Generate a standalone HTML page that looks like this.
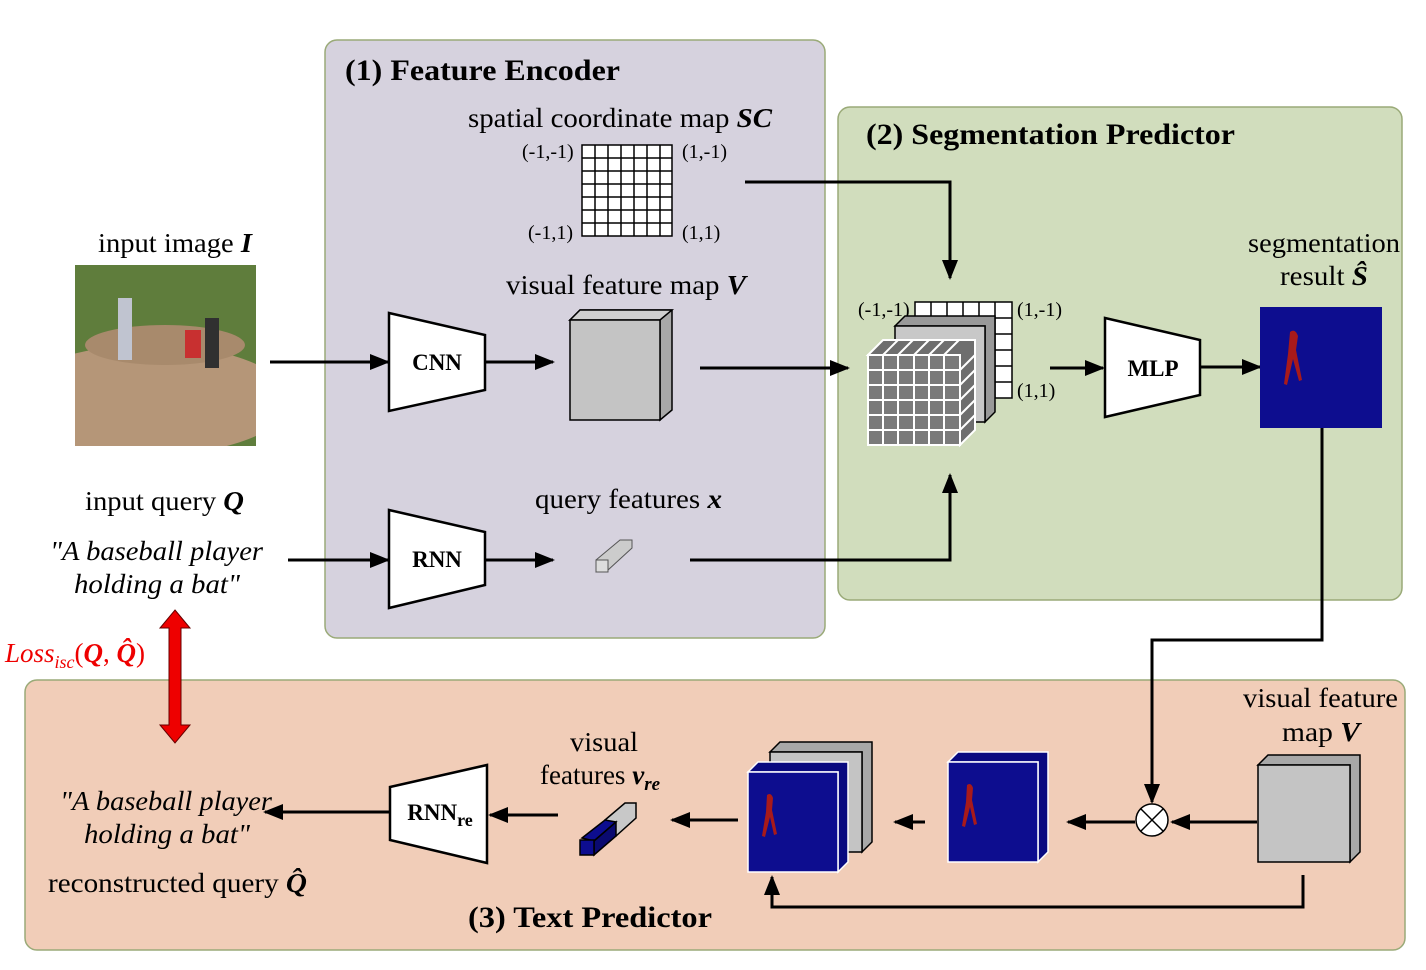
<!DOCTYPE html>
<html><head><meta charset="utf-8"><style>
html,body{margin:0;padding:0;background:#fff;}
svg{display:block;font-family:"Liberation Serif",serif;}
</style></head><body>
<svg width="1426" height="970" viewBox="0 0 1426 970" xmlns="http://www.w3.org/2000/svg">
<defs>
<marker id="ahb" viewBox="0 0 10 8" markerWidth="22" markerHeight="16" refX="9" refY="4" orient="auto" markerUnits="userSpaceOnUse">
<path d="M0,0 L10,4 L0,8 Z" fill="#000"/></marker>
<clipPath id="ph"><rect x="75" y="265" width="181" height="181"/></clipPath>
</defs>
<!-- panels -->
<rect x="325" y="40" width="500" height="598" rx="12" fill="#d6d2de" stroke="#9aaa78" stroke-width="1.5"/>
<rect x="838" y="107" width="564" height="493" rx="12" fill="#d1ddbd" stroke="#9aaa78" stroke-width="1.5"/>
<rect x="25" y="680" width="1380" height="270" rx="12" fill="#f1cdb8" stroke="#9aaa78" stroke-width="1.5"/>

<g font-size="30" font-weight="bold" lengthAdjust="spacingAndGlyphs">
<text x="345" y="80" textLength="275" lengthAdjust="spacingAndGlyphs">(1) Feature Encoder</text>
<text x="866" y="144" textLength="369" lengthAdjust="spacingAndGlyphs">(2) Segmentation Predictor</text>
<text x="468" y="927" textLength="244" lengthAdjust="spacingAndGlyphs">(3) Text Predictor</text>
</g>
<g font-size="27">
<text x="468" y="127" textLength="304" lengthAdjust="spacingAndGlyphs">spatial coordinate map <tspan font-weight="bold" font-style="italic">SC</tspan></text>
<text x="506" y="294" textLength="240" lengthAdjust="spacingAndGlyphs">visual feature map <tspan font-weight="bold" font-style="italic">V</tspan></text>
<text x="535" y="508" textLength="187" lengthAdjust="spacingAndGlyphs">query features <tspan font-weight="bold" font-style="italic">x</tspan></text>
<text x="98" y="252" textLength="154" lengthAdjust="spacingAndGlyphs">input image <tspan font-weight="bold" font-style="italic">I</tspan></text>
<text x="85" y="510" textLength="159" lengthAdjust="spacingAndGlyphs">input query <tspan font-weight="bold" font-style="italic">Q</tspan></text>
<text x="50" y="560" font-style="italic" textLength="213" lengthAdjust="spacingAndGlyphs">"A baseball player</text>
<text x="74" y="593" font-style="italic" textLength="166" lengthAdjust="spacingAndGlyphs">holding a bat"</text>
<text x="60" y="810" font-style="italic" textLength="212" lengthAdjust="spacingAndGlyphs">"A baseball player</text>
<text x="84" y="843" font-style="italic" textLength="166" lengthAdjust="spacingAndGlyphs">holding a bat"</text>
<text x="48" y="892" textLength="259" lengthAdjust="spacingAndGlyphs">reconstructed query <tspan font-weight="bold" font-style="italic">Q̂</tspan></text>
<text x="1248" y="252" textLength="152" lengthAdjust="spacingAndGlyphs">segmentation</text>
<text x="1280" y="285" textLength="88" lengthAdjust="spacingAndGlyphs">result <tspan font-weight="bold" font-style="italic">Ŝ</tspan></text>
<text x="1243" y="707" textLength="155" lengthAdjust="spacingAndGlyphs">visual feature</text>
<text x="1282" y="741" textLength="78" lengthAdjust="spacingAndGlyphs">map <tspan font-weight="bold" font-style="italic">V</tspan></text>
<text x="570" y="751" textLength="68" lengthAdjust="spacingAndGlyphs">visual</text>
<text x="540" y="784">features <tspan font-weight="bold" font-style="italic">v<tspan font-size="19" dy="6">re</tspan></tspan></text>
</g>
<text x="5" y="662" font-size="27" fill="#e00" font-style="italic">Loss<tspan font-size="18" dy="6">isc</tspan><tspan dy="-6" font-style="normal">(</tspan><tspan font-weight="bold">Q</tspan><tspan font-style="normal">, </tspan><tspan font-weight="bold">Q̂</tspan><tspan font-style="normal">)</tspan></text>
<!-- red arrow -->
<path d="M175,610 L190,628 L181,628 L181,725 L190,725 L175,743 L160,725 L169,725 L169,628 L160,628 Z" fill="#e00" stroke="#600" stroke-width="1"/>

<!-- photo -->
<g clip-path="url(#ph)">
<rect x="75" y="265" width="181" height="181" fill="#5f7d3c"/>
<ellipse cx="150" cy="400" rx="140" ry="55" fill="#b59678"/>
<ellipse cx="165" cy="345" rx="80" ry="20" fill="#a88a6c"/>
<rect x="118" y="298" width="14" height="62" fill="#c0c4d0"/>
<rect x="185" y="330" width="16" height="28" fill="#c83030"/>
<rect x="205" y="318" width="14" height="50" fill="#303030"/>
</g>

<!-- SC grid -->
<g stroke="#000" stroke-width="1.5" fill="#fff">
<rect x="582" y="145" width="90" height="91"/>
<path d="M595,145V236M608,145V236M621,145V236M634,145V236M647,145V236M660,145V236M582,158H672M582,171H672M582,184H672M582,197H672M582,210H672M582,223H672" fill="none"/>
</g>
<g font-size="20">
<text x="522" y="158">(-1,-1)</text><text x="682" y="158">(1,-1)</text>
<text x="528" y="239">(-1,1)</text><text x="682" y="239">(1,1)</text>
<text x="858" y="316">(-1,-1)</text><text x="1017" y="316">(1,-1)</text>
<text x="1017" y="397">(1,1)</text>
</g>

<!-- trapezoids -->
<g fill="#fff" stroke="#000" stroke-width="2.5">
<path d="M389,313 L485,335 L485,390 L389,411 Z"/>
<path d="M389,510 L485,532 L485,585 L389,608 Z"/>
<path d="M1105,318 L1200,340 L1200,395 L1105,417 Z"/>
<path d="M390,787 L487,765 L487,863 L390,840 Z"/>
</g>
<g font-size="23" font-weight="bold" text-anchor="middle">
<text x="437" y="370">CNN</text><text x="437" y="567">RNN</text><text x="1153" y="376">MLP</text>
<text x="440" y="820">RNN<tspan font-size="18" dy="6">re</tspan></text>
</g>

<!-- V box -->
<g stroke="#000" stroke-width="1.5">
<path d="M570,320 L580,310 L672,310 L672,410 L660,420 L660,320 Z" fill="#a8a8a8"/>
<path d="M570,320 L580,310 L672,310 L660,320 Z" fill="#d0d0d0"/>
<rect x="570" y="320" width="90" height="100" fill="#c4c4c4"/>
</g>
<!-- small cube -->
<g stroke="#555" stroke-width="1">
<path d="M596,560 L620,540 L632,540 L632,548 L608,570 L596,572 Z" fill="#ccc"/>
<rect x="596" y="560" width="12" height="12" fill="#ddd"/>
</g>

<!-- arrows -->
<g stroke="#000" stroke-width="3" fill="none" marker-end="url(#ahb)">
<path d="M270,362 H388"/><path d="M485,362 H553"/>
<path d="M288,560 H388"/><path d="M485,560 H553"/>
<path d="M700,368 H848"/>
<path d="M690,560 H950 V475"/>
<path d="M745,182 H950 V278"/>
<path d="M1050,368 H1103"/><path d="M1200,367 H1260"/>
<path d="M1322,428 V640 H1152 V802"/>
<path d="M1257,822 H1172"/><path d="M1135,822 H1068"/>
<path d="M925,822 H895"/><path d="M738,820 H672"/>
<path d="M558,815 H490"/><path d="M390,812 H265"/>
<path d="M1303,875 V907 H772 V877"/>
</g>

<!-- stack in seg predictor -->
<g stroke="#000" stroke-width="1.5" fill="#fff">
<rect x="915" y="302" width="97" height="96"/>
<path d="M931,302V398M947,302V398M963,302V398M979,302V398M995,302V398M915,318H1012M915,334H1012M915,350H1012M915,366H1012M915,382H1012" fill="none"/>
</g>
<g stroke="#000" stroke-width="1.5">
<path d="M895,326 L905,316 L995,316 L995,412 L985,422 L985,326 Z" fill="#999"/>
<rect x="895" y="326" width="90" height="96" fill="#c8c8c8"/>
</g>
<g stroke="#fff" stroke-width="2">
<path d="M868,355 L883,340 L975,340 L975,430 L960,445 L960,355 Z" fill="#6e6e6e"/>
<rect x="868" y="355" width="92" height="90" fill="#7a7a7a"/>
<path d="M883,355V445M898,355V445M914,355V445M929,355V445M944,355V445M868,370H960M868,385H960M868,400H960M868,415H960M868,430H960M883,355L898,340M898,355L913,340M914,355L929,340M929,355L944,340M944,355L959,340M960,370L975,355M960,385L975,370M960,400L975,385M960,415L975,400M960,430L975,415" fill="none"/>
</g>

<!-- seg result -->
<rect x="1260" y="307" width="122" height="121" fill="#0d0d8f"/>
<path d="M1290,332 q5,-4 8,4 l-2,14 l6,30 l-3,1 l-6,-22 l-6,26 l-3,-1 l4,-30 z" fill="#a81a1a"/>

<!-- bottom V box -->
<g stroke="#000" stroke-width="1.5">
<path d="M1258,765 L1268,755 L1360,755 L1360,852 L1350,862 L1350,765 Z" fill="#a8a8a8"/>
<rect x="1258" y="765" width="92" height="97" fill="#c4c4c4"/>
</g>
<circle cx="1152" cy="820" r="16" fill="#fff" stroke="#000" stroke-width="1.5"/>
<path d="M1141,809 L1163,831 M1163,809 L1141,831" stroke="#000" stroke-width="1.5"/>
<g stroke="#fff" stroke-width="1.5">
<path d="M948,762 L958,752 L1048,752 L1048,852 L1038,862 L1038,762 Z" fill="#0a0a80"/>
<rect x="948" y="762" width="90" height="100" fill="#0d0d8f"/>
</g>
<path d="M967,785 q4,-3 6,3 l-1,12 l5,24 l-3,1 l-4,-18 l-5,20 l-3,-1 l4,-24 z" fill="#a81a1a"/>
<g stroke="#000" stroke-width="1.5">
<path d="M770,752 L780,742 L872,742 L872,842 L862,852 L862,752 Z" fill="#a8a8a8"/>
<rect x="770" y="752" width="92" height="100" fill="#c4c4c4"/>
</g>
<g stroke="#fff" stroke-width="1.5">
<path d="M748,772 L758,762 L848,762 L848,862 L838,872 L838,772 Z" fill="#0a0a80"/>
<rect x="748" y="772" width="90" height="100" fill="#0d0d8f"/>
</g>
<path d="M767,795 q4,-3 6,3 l-1,12 l5,24 l-3,1 l-4,-18 l-5,20 l-3,-1 l4,-24 z" fill="#a81a1a"/>
<g stroke="#000" stroke-width="1.5">
<path d="M605,820 L625,803 L636,803 L636,818 L616,836 Z" fill="#c8c8c8"/>
<path d="M582,838 L605,820 L616,822 L594,841 Z" fill="#0d0d8f"/>
<path d="M594,841 L616,822 L616,836 L594,855 Z" fill="#0a0a70"/>
<rect x="580" y="840" width="14" height="15" fill="#0d0d8f"/>
</g>
</svg>
</body></html>
